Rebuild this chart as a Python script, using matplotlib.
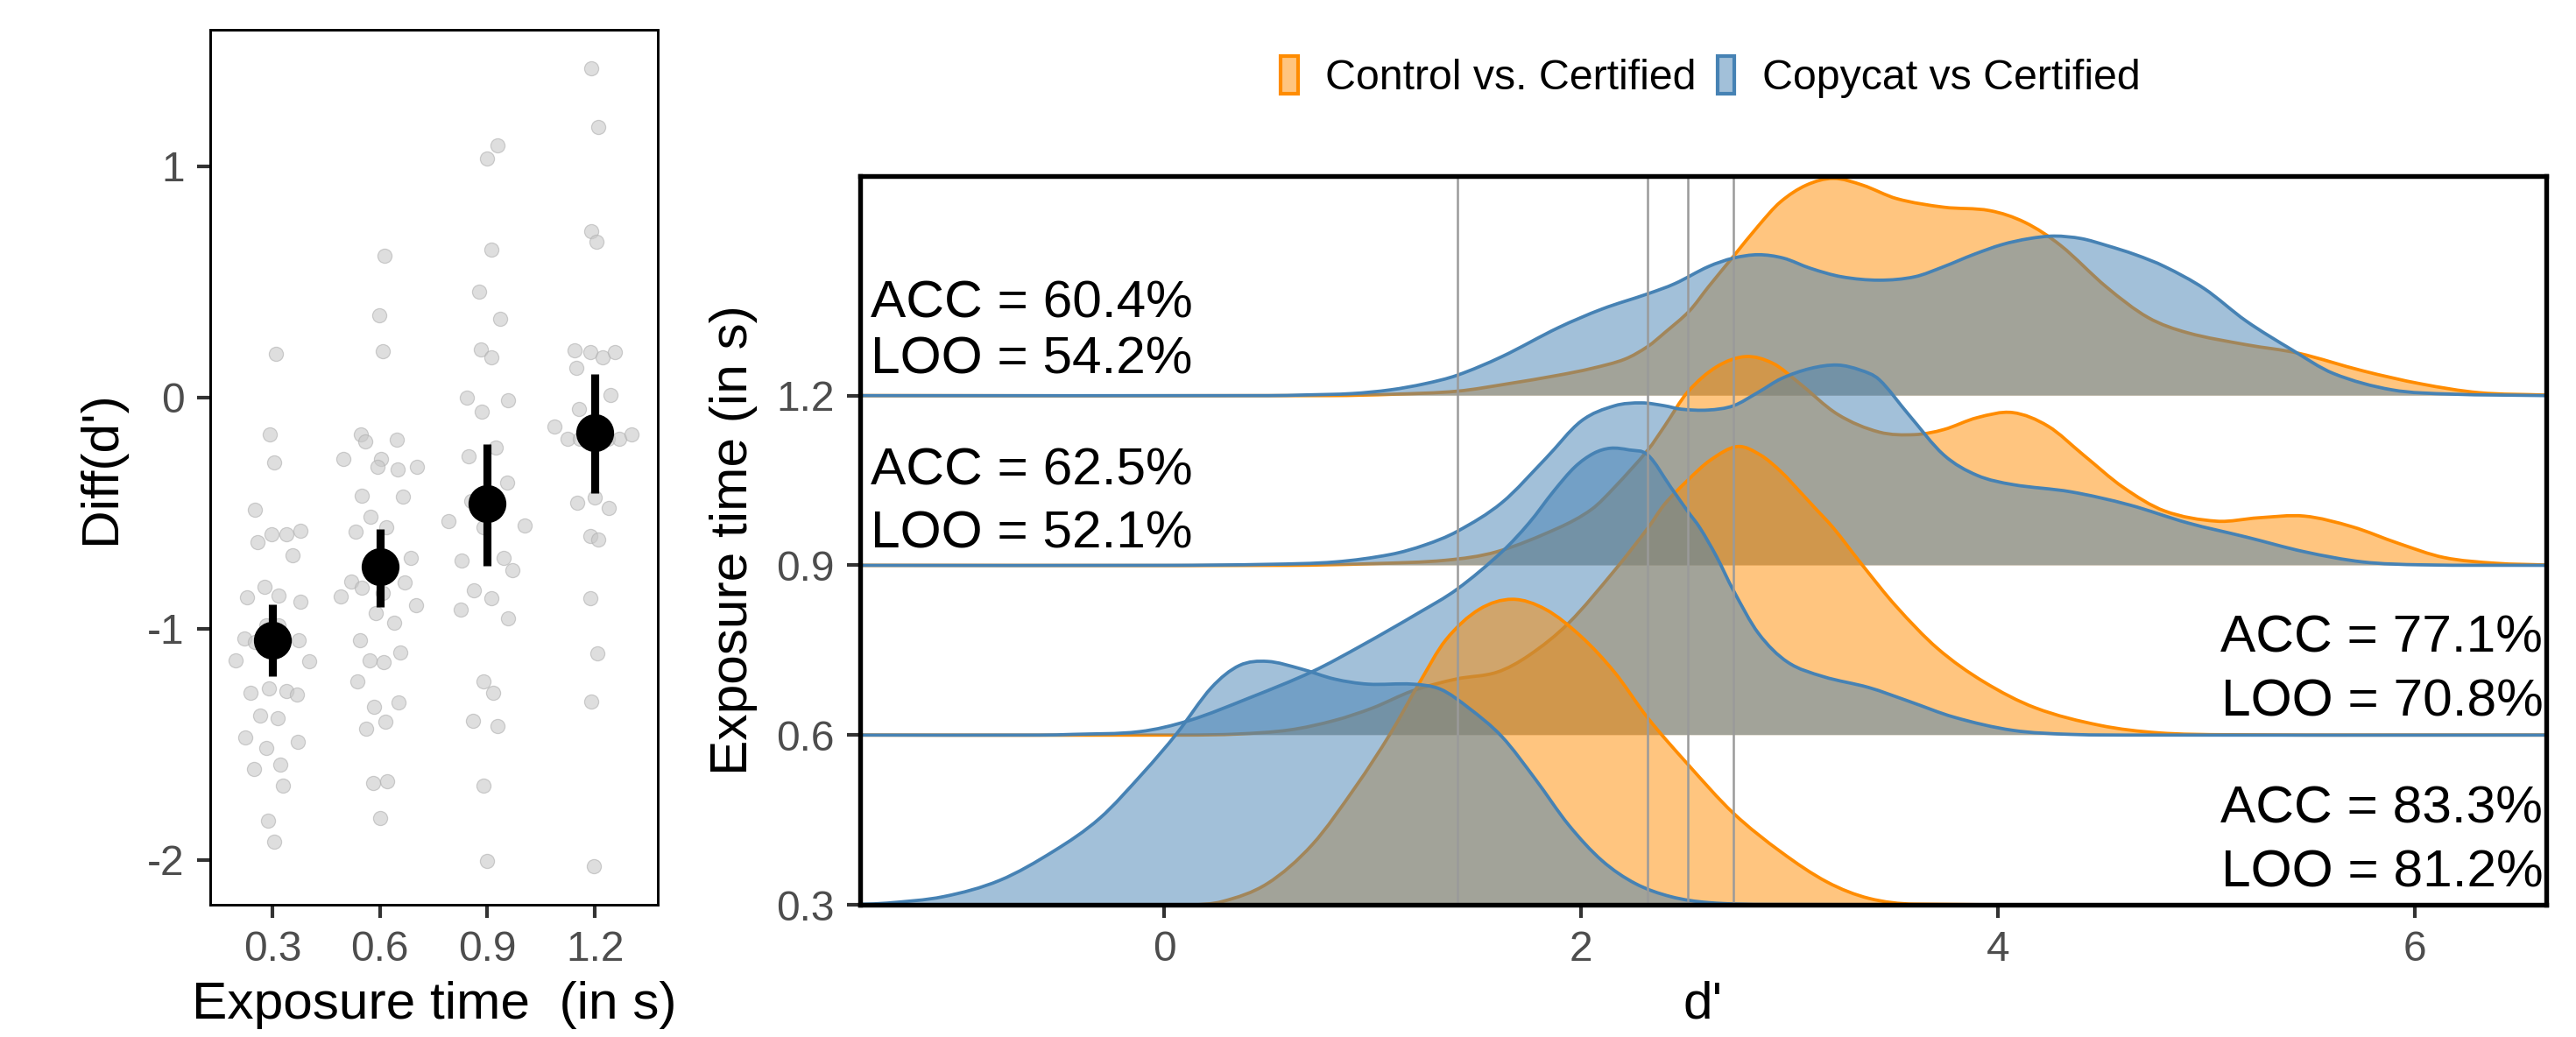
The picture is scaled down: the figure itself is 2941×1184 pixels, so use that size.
import matplotlib
matplotlib.use("Agg")
import matplotlib.pyplot as plt
from matplotlib.patches import Patch, PathPatch
from matplotlib.path import Path
from matplotlib.colors import to_rgba

plt.rcParams['font.family'] = ['Liberation Sans', 'DejaVu Sans']
plt.rcParams['axes.unicode_minus'] = False

# ---- left panel: per-participant Diff(d') by exposure time ----
exposure = [0.3, 0.6, 0.9, 1.2]
mean_diff = [-1.05, -0.733, -0.46, -0.154]
ci_low = [-1.205, -0.907, -0.727, -0.412]
ci_high = [-0.893, -0.569, -0.203, 0.10]

pts_x_03 = [0.310, 0.293, 0.304, 0.251, 0.259, 0.296, 0.338, 0.378, 0.355, 0.278, 0.229, 0.318,
            0.378, 0.221, 0.251, 0.282, 0.318, 0.372, 0.197, 0.403, 0.239, 0.291, 0.339, 0.367,
            0.266, 0.315, 0.225, 0.282, 0.371, 0.249, 0.322, 0.330, 0.288, 0.304]
pts_y_03 = [0.189, -0.160, -0.283, -0.484, -0.627, -0.592, -0.592, -0.578, -0.684, -0.819, -0.864,
            -0.856, -0.882, -1.042, -1.056, -0.985, -0.985, -1.050, -1.136, -1.142, -1.276, -1.259,
            -1.268, -1.285, -1.377, -1.388, -1.471, -1.514, -1.491, -1.606, -1.586, -1.677, -1.832,
            -1.920]
pts_x_06 = [0.612, 0.598, 0.607, 0.546, 0.559, 0.497, 0.604, 0.646, 0.593, 0.650, 0.703, 0.549,
            0.664, 0.574, 0.531, 0.617, 0.685, 0.520, 0.549, 0.607, 0.491, 0.668, 0.701, 0.588,
            0.640, 0.545, 0.571, 0.610, 0.656, 0.537, 0.583, 0.652, 0.561, 0.616, 0.582, 0.619,
            0.601]
pts_y_06 = [0.612, 0.355, 0.200, -0.160, -0.192, -0.266, -0.266, -0.183, -0.301, -0.312, -0.301,
            -0.424, -0.429, -0.515, -0.581, -0.561, -0.693, -0.796, -0.824, -0.847, -0.861, -0.799,
            -0.899, -0.933, -0.976, -1.050, -1.139, -1.145, -1.102, -1.228, -1.337, -1.319, -1.431,
            -1.402, -1.666, -1.660, -1.817]
pts_x_09 = [0.929, 0.899, 0.912, 0.878, 0.936, 0.882, 0.912, 0.843, 0.958, 0.885, 0.848, 0.924,
            0.854, 0.888, 0.954, 0.791, 1.003, 0.827, 0.945, 0.969, 0.862, 0.912, 0.826, 0.957,
            0.888, 0.915, 0.860, 0.927, 0.888, 0.900]
pts_y_09 = [1.090, 1.033, 0.641, 0.458, 0.341, 0.209, 0.175, 0.0, -0.011, -0.060, -0.255, -0.218,
            -0.446, -0.561, -0.369, -0.535, -0.555, -0.704, -0.693, -0.747, -0.833, -0.870, -0.919,
            -0.956, -1.228, -1.279, -1.400, -1.420, -1.677, -2.006]
pts_x_12 = [1.190, 1.209, 1.190, 1.204, 1.143, 1.188, 1.222, 1.257, 1.148, 1.244, 1.156, 1.087,
            1.125, 1.157, 1.236, 1.268, 1.302, 1.151, 1.200, 1.239, 1.188, 1.209, 1.187, 1.206,
            1.190, 1.196]
pts_y_12 = [1.422, 1.168, 0.718, 0.673, 0.203, 0.195, 0.172, 0.195, 0.129, 0.009, -0.049, -0.126,
            -0.180, -0.180, -0.180, -0.180, -0.160, -0.455, -0.432, -0.478, -0.598, -0.613, -0.867,
            -1.105, -1.314, -2.029]

# ---- right panel: ridge densities of d' (heights in ridge units) ----
ridge_levels = [1.2, 0.9, 0.6, 0.3]
ridge_step = 0.3

ctrl_12_x = [-1.46, 0.8, 1.1, 1.405, 1.65, 1.89, 2.05, 2.21, 2.32, 2.40, 2.52, 2.61, 2.73, 2.85,
             2.955, 3.08, 3.21, 3.35, 3.515, 3.74, 3.96, 4.13, 4.30, 4.52, 4.72, 4.91, 5.19, 5.44,
             5.75, 6.03, 6.31, 6.63]
ctrl_12_h = [0, 0, 0.008, 0.026, 0.07, 0.12, 0.16, 0.215, 0.29, 0.37, 0.50, 0.64, 0.82, 1.0,
             1.14, 1.24, 1.28, 1.24, 1.16, 1.11, 1.09, 1.02, 0.885, 0.64, 0.46, 0.37, 0.30, 0.25,
             0.146, 0.069, 0.017, 0.003]
copy_12_x = [-1.46, 0.5, 0.68, 0.9, 1.085, 1.25, 1.405, 1.62, 1.89, 2.10, 2.32, 2.45, 2.61, 2.73,
             2.85, 2.97, 3.10, 3.25, 3.43, 3.60, 3.74, 3.88, 4.02, 4.15, 4.27, 4.40, 4.52, 4.66,
             4.80, 4.99, 5.19, 5.41, 5.61, 5.89, 6.17, 6.63]
copy_12_h = [0, 0, 0.004, 0.012, 0.034, 0.07, 0.12, 0.23, 0.40, 0.51, 0.60, 0.66, 0.76, 0.81,
             0.83, 0.81, 0.75, 0.70, 0.68, 0.70, 0.76, 0.83, 0.89, 0.925, 0.94, 0.925, 0.885, 0.83,
             0.76, 0.63, 0.44, 0.27, 0.13, 0.034, 0.009, 0]

ctrl_09_x = [-1.46, 0.59, 1.0, 1.35, 1.595, 1.89, 2.05, 2.16, 2.32, 2.40, 2.51, 2.65, 2.79, 2.92,
             3.04, 3.23, 3.43, 3.60, 3.74, 3.90, 4.07, 4.24, 4.41, 4.60, 4.80, 5.05, 5.25, 5.47,
             5.70, 5.92, 6.14, 6.39, 6.63]
ctrl_09_h = [0, 0, 0.01, 0.03, 0.08, 0.22, 0.33, 0.46, 0.68, 0.82, 1.02, 1.17, 1.23, 1.19, 1.08,
             0.89, 0.785, 0.77, 0.80, 0.87, 0.90, 0.82, 0.65, 0.46, 0.32, 0.26, 0.28, 0.29, 0.227,
             0.13, 0.046, 0.012, 0.002]
copy_09_x = [-1.46, 0.01, 0.5, 0.82, 1.085, 1.25, 1.405, 1.62, 1.83, 2.00, 2.16, 2.29, 2.40, 2.48,
             2.61, 2.73, 2.85, 2.96, 3.10, 3.23, 3.34, 3.43, 3.57, 3.74, 3.90, 4.07, 4.35, 4.63,
             4.91, 5.19, 5.47, 5.75, 6.03, 6.63]
copy_09_h = [0, 0, 0.006, 0.02, 0.064, 0.12, 0.20, 0.37, 0.63, 0.85, 0.94, 0.957, 0.94, 0.92,
             0.915, 0.94, 1.02, 1.10, 1.16, 1.18, 1.15, 1.094, 0.89, 0.65, 0.53, 0.476, 0.433,
             0.356, 0.25, 0.167, 0.08, 0.02, 0.003, 0]

ctrl_06_x = [-1.46, 0.1, 0.35, 0.6, 0.816, 1.0, 1.19, 1.40, 1.595, 1.75, 1.94, 2.16, 2.32, 2.40,
             2.51, 2.62, 2.75, 2.86, 2.96, 3.06, 3.12, 3.21, 3.35, 3.51, 3.71, 3.93, 4.18, 4.49,
             4.77, 5.1, 6.63]
ctrl_06_h = [0, 0, 0.006, 0.03, 0.086, 0.16, 0.26, 0.33, 0.37, 0.47, 0.66, 0.97, 1.22, 1.36,
             1.50, 1.62, 1.70, 1.65, 1.55, 1.42, 1.34, 1.22, 1.0, 0.76, 0.51, 0.315, 0.16, 0.057,
             0.013, 0.002, 0]
copy_06_x = [-1.46, -0.6, -0.44, -0.12, 0.12, 0.41, 0.71, 0.95, 1.22, 1.405, 1.62, 1.75, 1.87,
             1.97, 2.06, 2.14, 2.23, 2.32, 2.43, 2.51, 2.57, 2.65, 2.73, 2.85, 2.99, 3.16, 3.38,
             3.57, 3.79, 4.07, 4.35, 4.7, 6.63]
copy_06_h = [0, 0, 0.004, 0.02, 0.086, 0.22, 0.374, 0.53, 0.72, 0.86, 1.08, 1.25, 1.44, 1.58,
             1.66, 1.69, 1.68, 1.65, 1.46, 1.32, 1.22, 1.05, 0.853, 0.60, 0.43, 0.345, 0.28, 0.20,
             0.105, 0.028, 0.004, 0, 0]

ctrl_03_x = [-1.46, 0.12, 0.28, 0.494, 0.71, 0.92, 1.085, 1.22, 1.35, 1.51, 1.67, 1.83, 2.0, 2.16,
             2.32, 2.51, 2.73, 2.96, 3.18, 3.38, 3.60, 6.63]
ctrl_03_h = [0, 0, 0.02, 0.125, 0.355, 0.70, 1.01, 1.30, 1.56, 1.74, 1.80, 1.74, 1.58, 1.37, 1.10,
             0.83, 0.54, 0.31, 0.134, 0.038, 0.004, 0]
copy_03_x = [-1.46, -1.33, -1.06, -0.79, -0.53, -0.31, -0.10, 0.06, 0.226, 0.36, 0.494, 0.655,
             0.816, 0.977, 1.19, 1.325, 1.46, 1.62, 1.78, 1.94, 2.10, 2.26, 2.43, 2.61, 2.9, 6.63]
copy_03_h = [0.003, 0.01, 0.048, 0.144, 0.317, 0.51, 0.78, 1.01, 1.28, 1.41, 1.434, 1.39, 1.33,
             1.30, 1.30, 1.27, 1.16, 0.99, 0.74, 0.47, 0.26, 0.125, 0.048, 0.013, 0.002, 0]

threshold_lines = [1.405, 2.32, 2.51, 2.73]

acc_labels = ["ACC = 60.4%", "ACC = 62.5%", "ACC = 77.1%", "ACC = 83.3%"]
loo_labels = ["LOO = 54.2%", "LOO = 52.1%", "LOO = 70.8%", "LOO = 81.2%"]

ORANGE = "darkorange"
BLUE = "steelblue"
TICK_GRAY = "#4D4D4D"


def smooth_path(xs, ys):
    # pass a cubic Bezier through the read points (Catmull-Rom style handles)
    n = len(xs)
    verts = [(xs[0], ys[0])]
    codes = [Path.MOVETO]
    for i in range(n - 1):
        x0, y0 = xs[max(i - 1, 0)], ys[max(i - 1, 0)]
        x1, y1 = xs[i], ys[i]
        x2, y2 = xs[i + 1], ys[i + 1]
        x3, y3 = xs[min(i + 2, n - 1)], ys[min(i + 2, n - 1)]
        d1 = (x2 - x1) / max(x2 - x0, 1e-9)
        d2 = (x2 - x1) / max(x3 - x1, 1e-9)
        c1 = (x1 + (x2 - x0) * d1 / 3, y1 + (y2 - y0) * d1 / 3)
        c2 = (x2 - (x3 - x1) * d2 / 3, y2 - (y3 - y1) * d2 / 3)
        verts += [c1, c2, (x2, y2)]
        codes += [Path.CURVE4] * 3
    return verts, codes


fig = plt.figure(figsize=(2941 / 300, 1184 / 300), dpi=300)

# left panel
ax1 = fig.add_axes([0.0816, 0.1275, 0.1738, 0.8438])
for px, py in [(pts_x_03, pts_y_03), (pts_x_06, pts_y_06), (pts_x_09, pts_y_09), (pts_x_12, pts_y_12)]:
    ax1.scatter(px, py, s=15, color="#C8C8C8", alpha=0.6, edgecolors="#B0B0B0",
                linewidths=0.3, zorder=2)
ax1.vlines(exposure, ci_low, ci_high, color="black", lw=2.2, zorder=3)
ax1.scatter(exposure, mean_diff, s=88, color="black", zorder=4)
ax1.set_xlim(0.126, 1.376)
ax1.set_ylim(-2.194, 1.59)
ax1.set_xticks(exposure)
ax1.set_xticklabels(["0.3", "0.6", "0.9", "1.2"])
ax1.set_yticks([-2, -1, 0, 1])
ax1.set_yticklabels(["-2", "-1", "0", "1"])
ax1.set_xlabel("Exposure time  (in s)", fontsize=14.5, labelpad=3)
ax1.set_ylabel("Diff(d')", fontsize=14.5, labelpad=6)
for sp in ax1.spines.values():
    sp.set_linewidth(0.7)
ax1.tick_params(labelsize=11.5, labelcolor=TICK_GRAY, color="#333333", width=1.0, length=3.5)

# right panel
ax2 = fig.add_axes([0.3339, 0.1275, 0.6545, 0.7027])
curves = [
    (ctrl_12_x, ctrl_12_h, copy_12_x, copy_12_h),
    (ctrl_09_x, ctrl_09_h, copy_09_x, copy_09_h),
    (ctrl_06_x, ctrl_06_h, copy_06_x, copy_06_h),
    (ctrl_03_x, ctrl_03_h, copy_03_x, copy_03_h),
]
z = 2
for base, (cx, ch, bx, bh) in zip(ridge_levels, curves):
    for xs, hs, col in [(cx, ch, ORANGE), (bx, bh, BLUE)]:
        ys = [base + h * ridge_step for h in hs]
        verts, codes = smooth_path(xs, ys)
        fill_verts = verts + [(xs[-1], base), (xs[0], base), (xs[0], ys[0])]
        fill_codes = codes + [Path.LINETO, Path.LINETO, Path.CLOSEPOLY]
        ax2.add_patch(PathPatch(Path(fill_verts, fill_codes), facecolor=to_rgba(col, 0.5),
                                edgecolor="none", lw=0, zorder=z))
        ax2.add_patch(PathPatch(Path(verts, codes), facecolor="none", edgecolor=col,
                                lw=0.9, zorder=z + 0.5))
        z += 1

for xv in threshold_lines:
    ax2.axvline(xv, color="#9A9A9A", lw=0.6, zorder=20)

ax2.set_xlim(-1.46, 6.63)
ax2.set_ylim(0.3, 1.588)
ax2.set_xticks([0, 2, 4, 6])
ax2.set_yticks(ridge_levels)
ax2.set_yticklabels(["1.2", "0.9", "0.6", "0.3"])
ax2.set_xlabel("d'", fontsize=14.5, labelpad=3)
ax2.set_ylabel("Exposure time (in s)", fontsize=14.5, labelpad=5)
for sp in ax2.spines.values():
    sp.set_linewidth(1.3)
    sp.set_zorder(30)
ax2.tick_params(labelsize=11.5, labelcolor=TICK_GRAY, color="#333333", width=1.0, length=3.5)

# accuracy annotations
acc_pos = [(-1.41, 1.362, "left"), (-1.41, 1.0665, "left"), (6.615, 0.770, "right"), (6.615, 0.4686, "right")]
loo_pos = [(-1.41, 1.263, "left"), (-1.41, 0.955, "left"), (6.615, 0.657, "right"), (6.615, 0.356, "right")]
for lab, (x, y, ha) in zip(acc_labels, acc_pos):
    ax2.text(x, y, lab, ha=ha, va="center", fontsize=14.5, zorder=40)
for lab, (x, y, ha) in zip(loo_labels, loo_pos):
    ax2.text(x, y, lab, ha=ha, va="center", fontsize=14.5, zorder=40)

handles = [
    Patch(facecolor=to_rgba(ORANGE, 0.5), edgecolor=ORANGE, lw=1.0, label="Control vs. Certified"),
    Patch(facecolor=to_rgba(BLUE, 0.5), edgecolor=BLUE, lw=1.0, label="Copycat vs Certified"),
]
fig.legend(handles=handles, loc="center", bbox_to_anchor=(0.664, 0.926), ncol=2,
           frameon=False, fontsize=11.6, handlelength=0.4, handleheight=1.0,
           handletextpad=0.65, columnspacing=0.5)

fig.savefig("out.png", dpi=300)
